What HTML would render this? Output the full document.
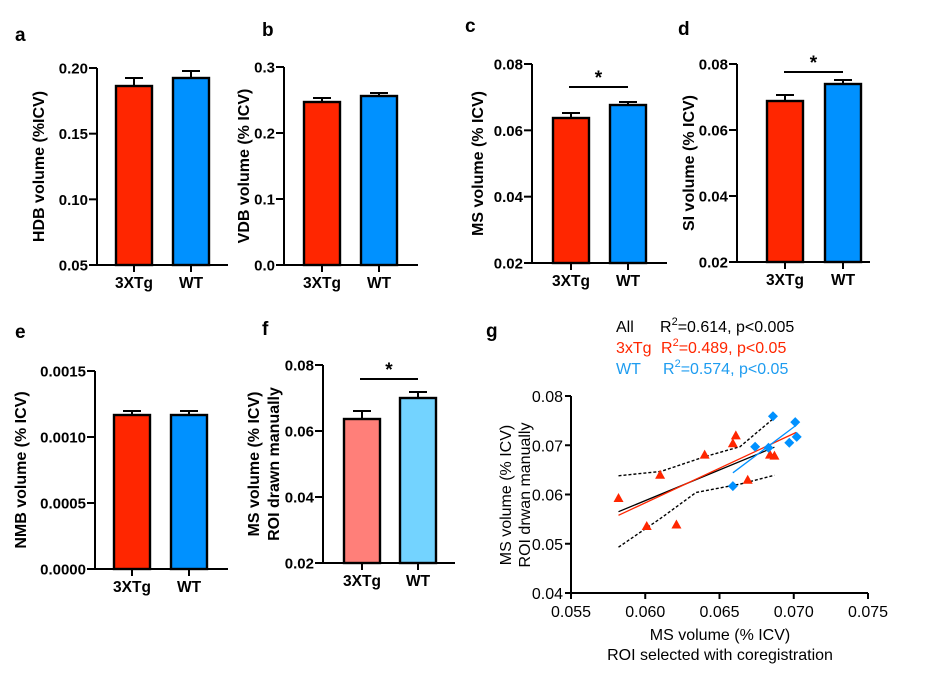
<!DOCTYPE html>
<html><head><meta charset="utf-8"><style>
html,body{margin:0;padding:0;background:#fff}
svg{display:block;font-family:"Liberation Sans",Arial,sans-serif}
.b{font-weight:bold}
</style></head><body>
<svg id="s" width="941" height="675" viewBox="0 0 941 675" xmlns="http://www.w3.org/2000/svg">
<g class="b" font-size="19">
<text x="15" y="41">a</text><text x="262" y="36">b</text><text x="465" y="32">c</text>
<text x="678" y="35">d</text><text x="15" y="338">e</text><text x="262" y="335">f</text><text x="486" y="337">g</text>
</g>
</svg>
<script>
const S=document.getElementById('s');let h='';
function bar(o){
 const {ax,top,bot,end,ticks,title,bars,sig}=o;
 h+=`<line x1="${ax}" y1="${top}" x2="${ax}" y2="${bot}" stroke="#000" stroke-width="2"/>`;
 h+=`<line x1="${ax}" y1="${bot}" x2="${end}" y2="${bot}" stroke="#000" stroke-width="2"/>`;
 ticks.forEach((t,i)=>{const y=top+(bot-top)*i/(ticks.length-1);
  h+=`<line x1="${ax-8}" y1="${y}" x2="${ax}" y2="${y}" stroke="#000" stroke-width="2"/>`;
  h+=`<text x="${ax-9}" y="${y+5.5}" text-anchor="end" class="b" font-size="15">${t}</text>`;});
 bars.forEach((b,i)=>{const c=(b.x+b.x+36)/2;
  h+=`<line x1="${c}" y1="${b.e}" x2="${c}" y2="${b.t}" stroke="#000" stroke-width="2"/><line x1="${c-9}" y1="${b.e}" x2="${c+9}" y2="${b.e}" stroke="#000" stroke-width="2"/>`;
  h+=`<rect x="${b.x}" y="${b.t}" width="36" height="${bot-b.t}" fill="${b.c}" stroke="#000" stroke-width="2.4"/>`;
  h+=`<line x1="${c}" y1="${bot}" x2="${c}" y2="${bot+7}" stroke="#000" stroke-width="2"/>`;
  h+=`<text x="${c}" y="${bot+23}" text-anchor="middle" class="b" font-size="15.5">${i?'WT':'3XTg'}</text>`;});
 const cy=(top+bot)/2;
 title.forEach((t,i)=>{const x=o.tx+i*20;
  h+=`<text transform="translate(${x},${cy}) rotate(-90)" text-anchor="middle" class="b" font-size="16">${t}</text>`;});
 if(sig){h+=`<line x1="${sig[0]}" y1="${sig[2]}" x2="${sig[1]}" y2="${sig[2]}" stroke="#000" stroke-width="2"/><text x="${(sig[0]+sig[1])/2}" y="${sig[2]-3}" text-anchor="middle" class="b" font-size="19">*</text>`;}
}
const R='#ff2600',B='#0091ff';
bar({ax:97,top:68,bot:265,end:228,ticks:['0.20','0.15','0.10','0.05'],title:['HDB volume (%ICV)'],tx:44,
 bars:[{x:116,t:86,e:78,c:R},{x:173,t:78,e:71,c:B}]});
bar({ax:284,top:67,bot:265,end:418,ticks:['0.3','0.2','0.1','0.0'],title:['VDB volume (% ICV)'],tx:249,
 bars:[{x:304,t:102,e:98,c:R},{x:361,t:96,e:93,c:B}]});
bar({ax:532,top:64,bot:263,end:667,ticks:['0.08','0.06','0.04','0.02'],title:['MS volume (% ICV)'],tx:483,
 bars:[{x:553,t:118,e:113,c:R},{x:610,t:105,e:102,c:B}],sig:[569,628,87]});
bar({ax:737,top:64,bot:262,end:870,ticks:['0.08','0.06','0.04','0.02'],title:['SI volume (% ICV)'],tx:694,
 bars:[{x:767,t:101,e:95,c:R},{x:825,t:84,e:80,c:B}],sig:[784,843,72]});
bar({ax:95,top:371,bot:569,end:228,ticks:['0.0015','0.0010','0.0005','0.0000'],title:['NMB volume (% ICV)'],tx:26,
 bars:[{x:114,t:415,e:411,c:R},{x:171,t:415,e:411,c:B}]});
bar({ax:323,top:365,bot:563,end:455,ticks:['0.08','0.06','0.04','0.02'],title:['MS volume (% ICV)','ROI drawn manually'],tx:259,
 bars:[{x:344,t:419,e:411,c:'#ff7f79'},{x:400,t:398,e:392,c:'#73d3ff'}],sig:[360,418,379]});
// panel g
const X=x=>571+(x-0.055)*14850, Y=y=>396+(0.08-y)*4925;
h+=`<line x1="571" y1="396" x2="571" y2="593" stroke="#000" stroke-width="2"/><line x1="571" y1="593" x2="868" y2="593" stroke="#000" stroke-width="2"/>`;
['0.08','0.07','0.06','0.05','0.04'].forEach((t,i)=>{const y=396+i*49.25;
 h+=`<line x1="565" y1="${y}" x2="571" y2="${y}" stroke="#000" stroke-width="2"/><text x="563" y="${y+6}" text-anchor="end" font-size="16">${t}</text>`;});
['0.055','0.060','0.065','0.070','0.075'].forEach((t,i)=>{const x=571+i*74.25;
 h+=`<line x1="${x}" y1="593" x2="${x}" y2="599" stroke="#000" stroke-width="2"/><text x="${x}" y="617" text-anchor="middle" font-size="16">${t}</text>`;});
h+=`<text x="720" y="640" text-anchor="middle" font-size="16">MS volume (% ICV)</text><text x="720" y="660" text-anchor="middle" font-size="16">ROI selected with coregistration</text>`;
h+=`<text transform="translate(511,495) rotate(-90)" text-anchor="middle" font-size="16">MS volume (% ICV)</text><text transform="translate(530,495) rotate(-90)" text-anchor="middle" font-size="16">ROI drwan manually</text>`;
h+=`<polyline points="618.5,475.8 661,471.4 705,456.6 740,446.7 774.4,417.7" fill="none" stroke="#000" stroke-width="1.4" stroke-dasharray="3,2"/>`;
h+=`<polyline points="618.5,547.2 661,518.1 696,492.5 740,484.1 774.4,475.3" fill="none" stroke="#000" stroke-width="1.4" stroke-dasharray="3,2"/>`;
h+=`<line x1="618.5" y1="511.7" x2="774.4" y2="447.2" stroke="#000" stroke-width="1.3"/>`;
h+=`<line x1="618.5" y1="515.3" x2="796.3" y2="432.4" stroke="${R}" stroke-width="1.3"/>`;
h+=`<line x1="732.9" y1="472.8" x2="795.2" y2="426" stroke="${B}" stroke-width="1.3"/>`;
[[.0582,.0592],[.0610,.0639],[.0601,.0535],[.0621,.0538],[.0640,.0680],[.0659,.0703],[.0661,.0719],[.0669,.0629],[.0684,.0680],[.0687,.0678]].forEach(p=>{const x=X(p[0]),y=Y(p[1]);
 h+=`<polygon points="${x},${y-5.5} ${x+5},${y+3.5} ${x-5},${y+3.5}" fill="${R}"/>`;});
[[.0686,.0759],[.0701,.0747],[.0702,.0717],[.0697,.0705],[.0683,.0695],[.0674,.0697],[.0659,.0617]].forEach(p=>{const x=X(p[0]),y=Y(p[1]);
 h+=`<polygon points="${x},${y-5} ${x+5},${y} ${x},${y+5} ${x-5},${y}" fill="${B}"/>`;});
h+=`<g font-size="16"><text x="616" y="332">All</text><text x="660" y="332">R<tspan dy="-7" font-size="11">2</tspan><tspan dy="7">=0.614, p&lt;0.005</tspan></text>
<text x="616" y="353" fill="${R}">3xTg</text><text x="661" y="353" fill="${R}">R<tspan dy="-7" font-size="11">2</tspan><tspan dy="7">=0.489, p&lt;0.05</tspan></text>
<text x="616" y="374" fill="#1e9cf0">WT</text><text x="663" y="374" fill="#1e9cf0">R<tspan dy="-7" font-size="11">2</tspan><tspan dy="7">=0.574, p&lt;0.05</tspan></text></g>`;
S.insertAdjacentHTML('beforeend',h);
</script>
</body></html>
